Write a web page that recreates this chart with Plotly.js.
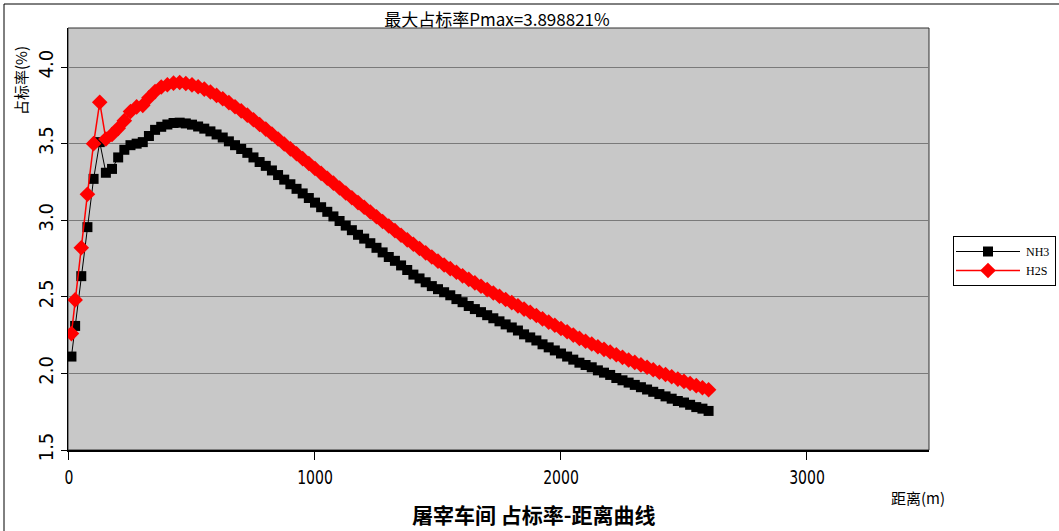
<!DOCTYPE html>
<html>
<head>
<meta charset="utf-8">
<script src="https://cdn.plot.ly/plotly-3.0.1.min.js"></script>
<style>
  html, body { margin: 0; padding: 0; background: #ffffff; }
  #chart { width: 1059px; height: 531px; }
</style>
</head>
<body>
<div id="chart"></div>
<script>
// Distance from the source (m)
const distance = [10, 25, 50, 75, 100, 125, 150, 175, 200, 225, 250, 275, 300, 325, 350, 375, 400, 425, 450, 475,
  500, 525, 550, 575, 600, 625, 650, 675, 700, 725, 750, 775, 800, 825, 850, 875, 900, 925, 950, 975,
  1000, 1025, 1050, 1075, 1100, 1125, 1150, 1175, 1200, 1225, 1250, 1275, 1300, 1325, 1350, 1375, 1400, 1425, 1450, 1475,
  1500, 1525, 1550, 1575, 1600, 1625, 1650, 1675, 1700, 1725, 1750, 1775, 1800, 1825, 1850, 1875, 1900, 1925, 1950, 1975,
  2000, 2025, 2050, 2075, 2100, 2125, 2150, 2175, 2200, 2225, 2250, 2275, 2300, 2325, 2350, 2375, 2400, 2425, 2450, 2475,
  2500, 2525, 2550, 2575, 2600];

// NH3 occupancy ratio (%)
const nh3 = [2.11, 2.31, 2.635, 2.955, 3.27, 3.51, 3.31, 3.335, 3.41, 3.46, 3.49, 3.50, 3.51, 3.55, 3.59, 3.61, 3.625, 3.635, 3.637, 3.632,
  3.624, 3.612, 3.598, 3.58, 3.56, 3.54, 3.515, 3.49, 3.465, 3.44, 3.41, 3.38, 3.355, 3.325, 3.295, 3.265, 3.235, 3.205, 3.175, 3.145,
  3.115, 3.085, 3.055, 3.025, 2.995, 2.965, 2.935, 2.905, 2.88, 2.85, 2.82, 2.79, 2.76, 2.735, 2.705, 2.675, 2.645, 2.62, 2.595, 2.57,
  2.55, 2.53, 2.51, 2.485, 2.465, 2.44, 2.42, 2.40, 2.38, 2.36, 2.34, 2.32, 2.30, 2.28, 2.255, 2.235, 2.215, 2.19, 2.17, 2.15,
  2.13, 2.11, 2.09, 2.07, 2.055, 2.04, 2.02, 2.005, 1.99, 1.97, 1.955, 1.94, 1.925, 1.91, 1.895, 1.88, 1.865, 1.85, 1.835, 1.82,
  1.81, 1.795, 1.78, 1.77, 1.755];

// H2S occupancy ratio (%)
const h2s = [2.26, 2.48, 2.82, 3.17, 3.50, 3.77, 3.53, 3.56, 3.60, 3.65, 3.71, 3.74, 3.75, 3.80, 3.84, 3.87, 3.885, 3.895, 3.898821, 3.893,
  3.884, 3.871, 3.856, 3.837, 3.815, 3.793, 3.768, 3.741, 3.714, 3.686, 3.656, 3.625, 3.595, 3.563, 3.53, 3.498, 3.466, 3.434, 3.402, 3.37,
  3.338, 3.306, 3.274, 3.242, 3.21, 3.178, 3.147, 3.115, 3.085, 3.054, 3.023, 2.992, 2.962, 2.932, 2.902, 2.872, 2.843, 2.815, 2.787, 2.76,
  2.733, 2.708, 2.684, 2.66, 2.637, 2.614, 2.591, 2.569, 2.547, 2.525, 2.504, 2.483, 2.462, 2.441, 2.42, 2.399, 2.378, 2.356, 2.335, 2.314,
  2.293, 2.272, 2.25, 2.229, 2.21, 2.192, 2.174, 2.157, 2.14, 2.122, 2.105, 2.088, 2.072, 2.056, 2.04, 2.024, 2.008, 1.993, 1.978, 1.963,
  1.948, 1.934, 1.92, 1.906, 1.893];

const xTicks = [0, 1000, 2000, 3000];
const yTicks = [1.5, 2.0, 2.5, 3.0, 3.5, 4.0];

const pmax = 3.898821;

const CJK = '"Noto Sans CJK SC", "Noto Sans", sans-serif';
const NARROW = '"Liberation Sans Narrow", "DejaVu Sans Condensed", "Arial Narrow", sans-serif';

const traces = [
  {
    name: 'NH3', x: distance, y: nh3, type: 'scatter', mode: 'lines+markers',
    line: { color: '#000000', width: 1 },
    marker: { symbol: 'square', size: 10, color: '#000000' }
  },
  {
    name: 'H2S', x: distance, y: h2s, type: 'scatter', mode: 'lines+markers',
    line: { color: '#ff0000', width: 1.5 },
    marker: { symbol: 'diamond', size: 12, color: '#ff0000' }
  }
];

const layout = {
  width: 1059, height: 531,
  margin: { l: 68, r: 130, t: 28, b: 81 },
  paper_bgcolor: '#ffffff',
  plot_bgcolor: '#c8c8c8',
  showlegend: true,
  title: {
    text: '最大占标率Pmax=' + pmax.toFixed(6) + '%',
    font: { family: CJK, size: 17, color: '#000000' },
    x: 497 / 1059, xanchor: 'center', xref: 'container',
    y: 1 - 20 / 531, yanchor: 'middle', yref: 'container'
  },
  xaxis: {
    range: [-4, 3496],
    tickvals: xTicks,
    ticktext: xTicks.map(String),
    ticks: 'outside', ticklen: 8, tickwidth: 1, tickcolor: '#000000',
    showgrid: false, zeroline: false,
    showline: true, linecolor: '#000000', linewidth: 2,
    tickfont: { family: NARROW, size: 20, color: '#000000' }
  },
  yaxis: {
    range: [1.5, 4.255],
    tickvals: yTicks,
    ticktext: yTicks.map(v => v.toFixed(1)),
    tickangle: -90,
    ticks: 'outside', ticklen: 6, tickwidth: 1, tickcolor: '#000000',
    showgrid: true, gridcolor: '#7a7a7a', gridwidth: 1,
    zeroline: false,
    showline: true, linecolor: '#000000', linewidth: 1.5,
    tickfont: { family: NARROW, size: 20, color: '#000000' }
  },
  legend: {
    xref: 'container', yref: 'container',
    x: 953 / 1059, xanchor: 'left',
    y: 1 - 236 / 531, yanchor: 'top',
    bgcolor: '#ffffff', bordercolor: '#000000', borderwidth: 1,
    font: { family: '"Liberation Serif", serif', size: 12, color: '#000000' },
    itemwidth: 62,
    tracegroupgap: 0
  },
  annotations: [
    {
      text: '<b>屠宰车间 占标率-距离曲线</b>',
      xref: 'paper', yref: 'paper',
      x: (534 - 68) / 861, y: (450 - 514) / 422,
      xanchor: 'center', yanchor: 'middle', showarrow: false,
      font: { family: CJK, size: 21, color: '#000000' }
    },
    {
      text: '距离(m)',
      xref: 'paper', yref: 'paper',
      x: (918 - 68) / 861, y: (450 - 497) / 422,
      xanchor: 'center', yanchor: 'middle', showarrow: false,
      font: { family: CJK, size: 15, color: '#000000' }
    },
    {
      text: '占标率(%)',
      xref: 'paper', yref: 'paper',
      x: (20 - 68) / 861, y: (450 - 81) / 422,
      xanchor: 'center', yanchor: 'middle', showarrow: false, textangle: -90,
      font: { family: CJK, size: 15, color: '#000000' }
    }
  ],
  shapes: [
    // outer frame of the figure
    {
      type: 'rect', xref: 'paper', yref: 'paper', layer: 'above',
      x0: (4 - 68) / 861, x1: 2, y0: -1, y1: (450 - 4) / 422,
      line: { color: '#000000', width: 1 }, fillcolor: 'rgba(0,0,0,0)'
    },
    // border of the plotting area
    {
      type: 'rect', xref: 'paper', yref: 'paper', layer: 'below',
      x0: 0, x1: 1, y0: 0, y1: 1,
      line: { color: '#303030', width: 1 }, fillcolor: 'rgba(0,0,0,0)'
    }
  ]
};

Plotly.newPlot('chart', traces, layout, { displayModeBar: false, staticPlot: true }).then(gd => {
  // narrow the distance tick labels
  gd.querySelectorAll('.xtick text').forEach(t => {
    const w = t.getComputedTextLength();
    t.setAttribute('textLength', (w * 0.78).toFixed(1));
    t.setAttribute('lengthAdjust', 'spacingAndGlyphs');
  });
  // stretch the legend sample lines across the wider symbol area
  gd.querySelectorAll('.legend .legendlines path').forEach(p => {
    p.setAttribute('d', 'M2,0h64');
  });
  gd.querySelectorAll('.legend .legendpoints path').forEach(p => {
    p.setAttribute('transform', 'translate(34,0)');
  });
});
</script>
</body>
</html>
